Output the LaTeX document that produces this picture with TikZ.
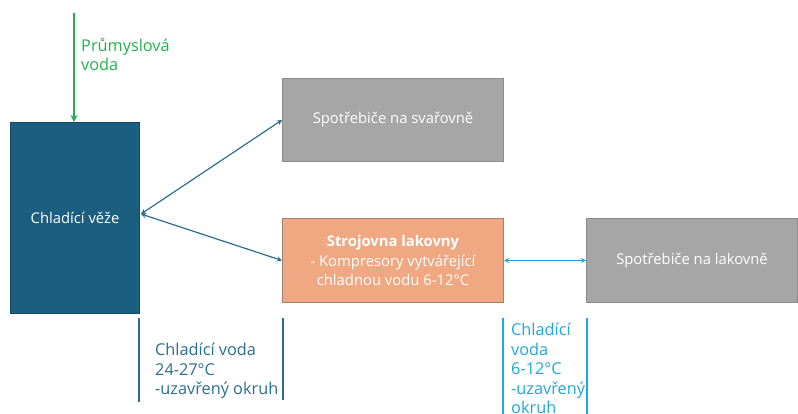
\documentclass[tikz,border=0pt]{standalone}
\usepackage{fontspec}
\setmainfont{Open Sans}
\usetikzlibrary{arrows.meta}
\definecolor{tower}{HTML}{1B5E80}
\definecolor{towerline}{HTML}{134A66}
\definecolor{conn}{HTML}{2A6F8F}
\definecolor{greyfill}{HTML}{A6A6A6}
\definecolor{greyline}{HTML}{8C8C8C}
\definecolor{orangefill}{HTML}{F0A882}
\definecolor{orangeline}{HTML}{A08070}
\definecolor{cyanc}{HTML}{1EA8E0}
\definecolor{greenc}{HTML}{22B24C}
\begin{document}
\begin{tikzpicture}[x=1pt,y=-1pt,
  box/.style={draw, line width=1pt, inner sep=0pt, anchor=north west, align=center, text=white, font=\fontsize{14.8}{19.5}\selectfont},
  lbl/.style={anchor=north west, align=left, inner sep=0pt, font=\fontsize{16.3}{19.5}\selectfont},
  conna/.style={conn, line width=1.2pt, {Stealth[length=5pt,width=5pt]}-{Stealth[length=5pt,width=5pt]}},
  cyana/.style={cyanc, line width=1.2pt, {Stealth[length=5pt,width=5pt]}-{Stealth[length=5pt,width=5pt]}},
  bar/.style={line width=1.2pt}
]
\useasboundingbox (0,0) rectangle (798,414);
\node[box, fill=tower, draw=towerline, minimum width=129pt, minimum height=191pt] (tower) at (10,122) {Chladící věže};
\node[box, fill=greyfill, draw=greyline, minimum width=221pt, minimum height=83pt] (weld) at (282,78) {Spotřebiče na svařovně};
\node[box, fill=orangefill, draw=orangeline, minimum width=221pt, minimum height=84pt] (paint) at (282,218) {\textbf{Strojovna lakovny}\\- Kompresory vytvářející\\chladnou vodu 6-12°C};
\node[box, fill=greyfill, draw=greyline, minimum width=211pt, minimum height=84pt] (cons) at (586,218) {Spotřebiče na lakovně};
\coordinate (gtop) at (74,13);
\draw[greenc, line width=2pt, -{Stealth[length=7pt,width=7pt]}] (gtop) -- (tower.north -| gtop);
\node[lbl, text=greenc] (gl) at (81,38) {Průmyslová\\voda};
\coordinate (hub) at (141,214);
\draw[conna] (hub) -- (weld.west);
\draw[conna] (hub) -- (paint.west);
\draw[cyana] (paint.east) -- (cons.west);
\coordinate (b1t) at (139,318); \coordinate (b1b) at (139,402);
\coordinate (b2t) at (283,318); \coordinate (b2b) at (283,400);
\draw[bar, conn] (b1t) -- (b1b);
\draw[bar, conn] (b2t) -- (b2b);
\node[lbl, text=conn] (l1) at (155,343) {Chladící voda\\24-27°C\\-uzavřený okruh};
\coordinate (c1t) at (503,318); \coordinate (c1b) at (503,414);
\coordinate (c2t) at (587,318); \coordinate (c2b) at (587,414);
\draw[bar, cyanc] (c1t) -- (c1b);
\draw[bar, cyanc] (c2t) -- (c2b);
\node[lbl, text=cyanc] (l2) at (511,323) {Chladící\\voda\\6-12°C\\-uzavřený\\okruh};
\end{tikzpicture}
\end{document}
